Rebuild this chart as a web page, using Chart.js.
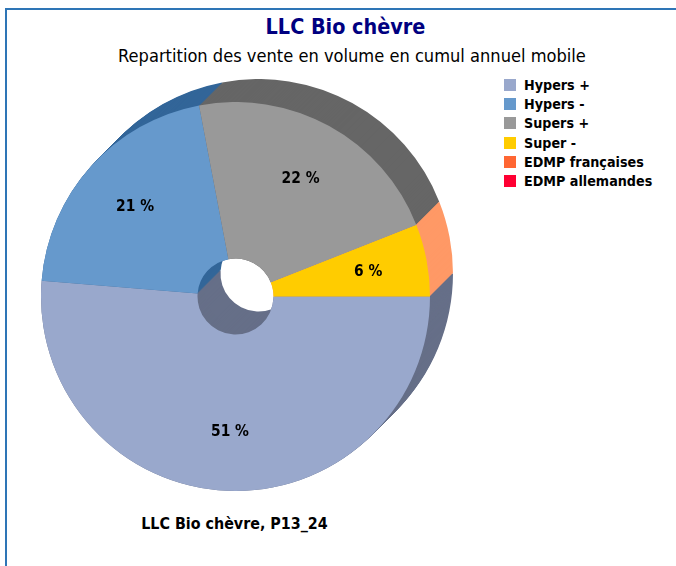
<!DOCTYPE html>
<html lang="fr">
<head>
<meta charset="UTF-8">
<title>LLC Bio chèvre</title>
<script src="https://cdn.jsdelivr.net/npm/chart.js"></script>
<style>
    html, body { margin: 0; padding: 0; background: #fff; overflow: hidden; }
    body { width: 676px; height: 566px; position: relative; font-family: "DejaVu Sans Condensed", "DejaVu Sans", sans-serif; color: #000; }
    #frame { position: absolute; left: 5px; top: 8px; right: 0; bottom: 0; border-left: 2px solid #2e75b6; border-top: 2px solid #2e75b6; }
    #title { position: absolute; left: 0; width: 691px; top: 14px; text-align: center; font-weight: bold; font-size: 21.4px; line-height: 26px; color: #000080; }
    #subtitle { position: absolute; left: 0; width: 704px; top: 45px; text-align: center; font-size: 18.1px; line-height: 22px; }
    #footer { position: absolute; left: 0; width: 469px; top: 515px; text-align: center; font-weight: bold; font-size: 15.9px; line-height: 18px; }
    canvas { position: absolute; }
    #backChart { left: 41px; top: 79px; }
    #frontChart { left: 41px; top: 102px; }
    #legend { position: absolute; left: 504px; top: 75.4px; }
    .item { height: 19.2px; display: flex; align-items: center; font-weight: bold; font-size: 14.2px; white-space: nowrap; }
    .box { width: 12px; height: 12px; margin-right: 8px; }
</style>
</head>
<body>
<div id="frame"></div>
<div id="title">LLC Bio chèvre</div>
<div id="subtitle">Repartition des vente en volume en cumul annuel mobile</div>
<canvas id="backChart" width="413" height="412"></canvas>
<canvas id="frontChart" width="389" height="389"></canvas>
<div id="legend"></div>
<div id="footer">LLC Bio chèvre, P13_24</div>

<script>
    const categories = ["Hypers +", "Hypers -", "Supers +", "Super -", "EDMP françaises", "EDMP allemandes"];
    const volumes = [51.3, 20.7, 22.0, 6.0, 0, 0];
    const frontColors = ["#99a8cc", "#6699cc", "#999999", "#ffcc00", "#ff6633", "#ff0033"];
    const backColors = ["#666f88", "#336699", "#666666", "#ff9966", "#aa4422", "#aa0022"];

    // "51 %" labels sitting at 135px from the centre, on the middle of each slice
    const sliceLabels = {
        id: "sliceLabels",
        afterDatasetsDraw(chart) {
            const ctx = chart.ctx;
            ctx.save();
            ctx.font = "bold 15.4px 'DejaVu Sans Condensed', 'DejaVu Sans'";
            ctx.fillStyle = "#000";
            ctx.textAlign = "center";
            ctx.textBaseline = "middle";
            chart.getDatasetMeta(0).data.forEach((arc, i) => {
                if (!volumes[i]) return;
                const p = arc.getProps(["x", "y", "startAngle", "endAngle"]);
                const mid = (p.startAngle + p.endAngle) / 2;
                ctx.fillText(Math.round(volumes[i]) + " %", p.x + Math.cos(mid) * 135, p.y + Math.sin(mid) * 135 + 1);
            });
            ctx.restore();
        }
    };

    // fake 3D: repeat the arcs up and to the right, back layer first
    const depth = {
        id: "depth",
        beforeDatasetDraw(chart) {
            const ctx = chart.ctx;
            const arcs = chart.getDatasetMeta(0).data;
            for (let t = 23; t >= 0; t--) {
                ctx.save();
                ctx.translate(t, -t);
                arcs.forEach(arc => arc.draw(ctx));
                ctx.restore();
            }
            return false;
        }
    };

    function makeRing(canvasId, colors, padding, plugins) {
        return new Chart(document.getElementById(canvasId), {
            type: "doughnut",
            data: {
                labels: categories,
                datasets: [{ data: volumes, backgroundColor: colors, borderWidth: 0 }]
            },
            options: {
                responsive: false,
                animation: false,
                rotation: 90,
                cutout: 38,
                layout: { padding: padding },
                plugins: { legend: { display: false }, tooltip: { enabled: false } }
            },
            plugins: plugins
        });
    }

    makeRing("backChart", backColors, { top: 23, right: 24 }, [depth]);
    makeRing("frontChart", frontColors, 0, [sliceLabels]);

    let legend = document.getElementById("legend");
    categories.forEach((name, i) => {
        let row = document.createElement("div");
        row.className = "item";
        let box = document.createElement("span");
        box.className = "box";
        box.style.background = frontColors[i];
        row.appendChild(box);
        row.appendChild(document.createTextNode(name));
        legend.appendChild(row);
    });
</script>
</body>
</html>
